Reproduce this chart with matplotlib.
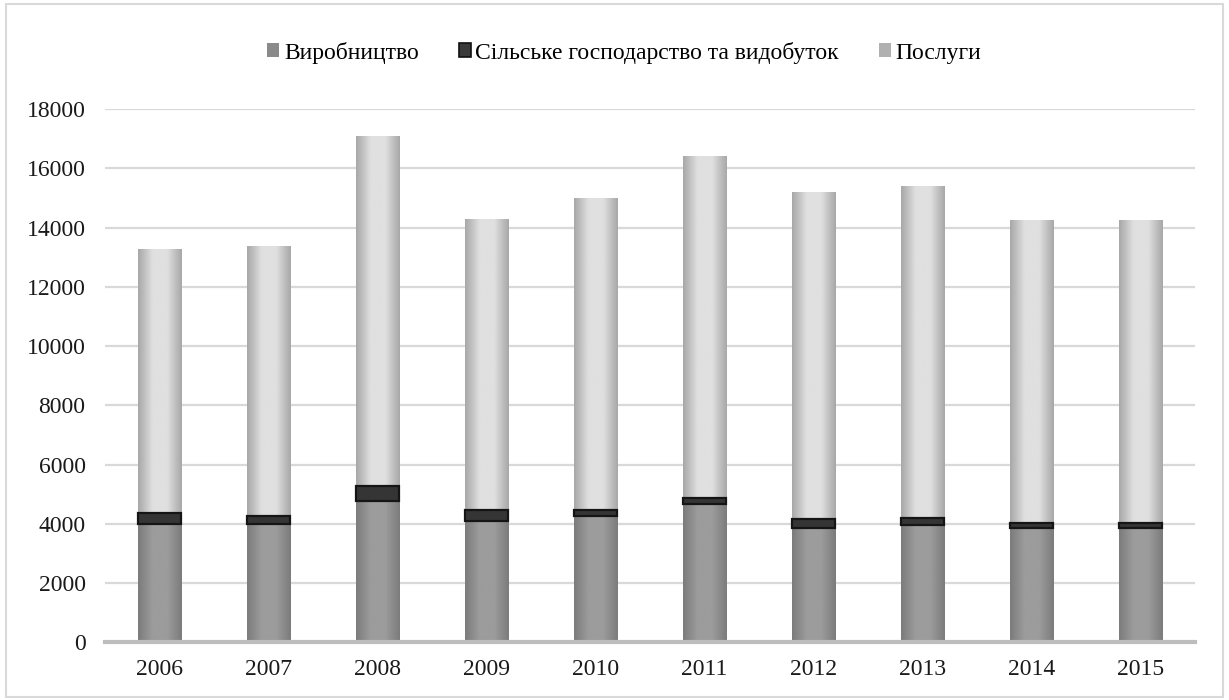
import numpy as np
import matplotlib.pyplot as plt
from matplotlib.colors import LinearSegmentedColormap
from matplotlib.patches import Rectangle, Patch

plt.rcParams['font.family'] = ['Liberation Serif', 'DejaVu Serif']

years = ['2006', '2007', '2008', '2009', '2010', '2011', '2012', '2013', '2014', '2015']
manufacturing = [3980, 3980, 4770, 4080, 4260, 4660, 3870, 3950, 3860, 3860]
agriculture = [400, 290, 500, 400, 200, 210, 300, 240, 180, 180]
services = [8890, 9110, 11830, 9820, 10530, 11530, 11030, 11210, 10210, 10210]
labels = ['Виробництво', 'Сільське господарство та видобуток', 'Послуги']


def shade(ax, bars, edge, mid):
    # horizontal gradient inside every bar, darker at the sides
    cmap = LinearSegmentedColormap.from_list('g', [edge, mid, mid, edge])
    grad = np.linspace(0, 1, 64).reshape(1, -1)
    for b in bars:
        x, y = b.get_x(), b.get_y()
        w, h = b.get_width(), b.get_height()
        im = ax.imshow(grad, extent=[x, x + w, y, y + h], aspect='auto',
                       cmap=cmap, zorder=b.get_zorder(), interpolation='bicubic')
        im.set_clip_path(b)


fig = plt.figure(figsize=(12.29, 7), dpi=100)
ax = fig.add_axes([0.0854, 0.0824, 0.8869, 0.7619])

x = np.arange(len(years))
width = 0.4
manuf = np.array(manufacturing)
agri = np.array(agriculture)

b1 = ax.bar(x, manuf, width, color='#8c8c8c', zorder=2)
b2 = ax.bar(x, agri, width, bottom=manuf, color='#353535',
            edgecolor='#151515', linewidth=1.6, zorder=3)
b3 = ax.bar(x, services, width, bottom=manuf + agri, color='#d6d6d6', zorder=2)
shade(ax, b1, '#7c7c7c', '#9c9c9c')
shade(ax, b3, '#a8a8a8', '#e0e0e0')

ax.set_xlim(-0.5, len(years) - 0.5)
ax.set_ylim(0, 18000)
ax.set_yticks(range(0, 18001, 2000))
ax.set_xticks(x)
ax.set_xticklabels(years)
ax.tick_params(length=0, labelsize=17, colors='#1a1a1a', pad=12)
ax.tick_params(axis='y', pad=14)
ax.grid(axis='y', color='#d9d9d9', linewidth=1.6, zorder=0)
ax.set_axisbelow(True)
for s in ['top', 'right', 'left']:
    ax.spines[s].set_visible(False)
ax.spines['bottom'].set_color('#bdbdbd')
ax.spines['bottom'].set_linewidth(3)
ax.spines['bottom'].set_zorder(4)

handles = [Patch(facecolor='#8a8a8a'),
           Patch(facecolor='#3a3a3a', edgecolor='#111111', linewidth=1.2),
           Patch(facecolor='#b0b0b0')]
fig.legend(handles, labels, loc='center', bbox_to_anchor=(0.508, 0.925), ncol=3,
           frameon=False, fontsize=17, handlelength=0.5, handleheight=0.5,
           handletextpad=0.2, columnspacing=1.7)

fig.patches.append(Rectangle((0.005, 0.004), 0.99, 0.99, transform=fig.transFigure,
                             fill=False, edgecolor='#d9d9d9', linewidth=1.5))

fig.savefig('out.png', dpi=100)
